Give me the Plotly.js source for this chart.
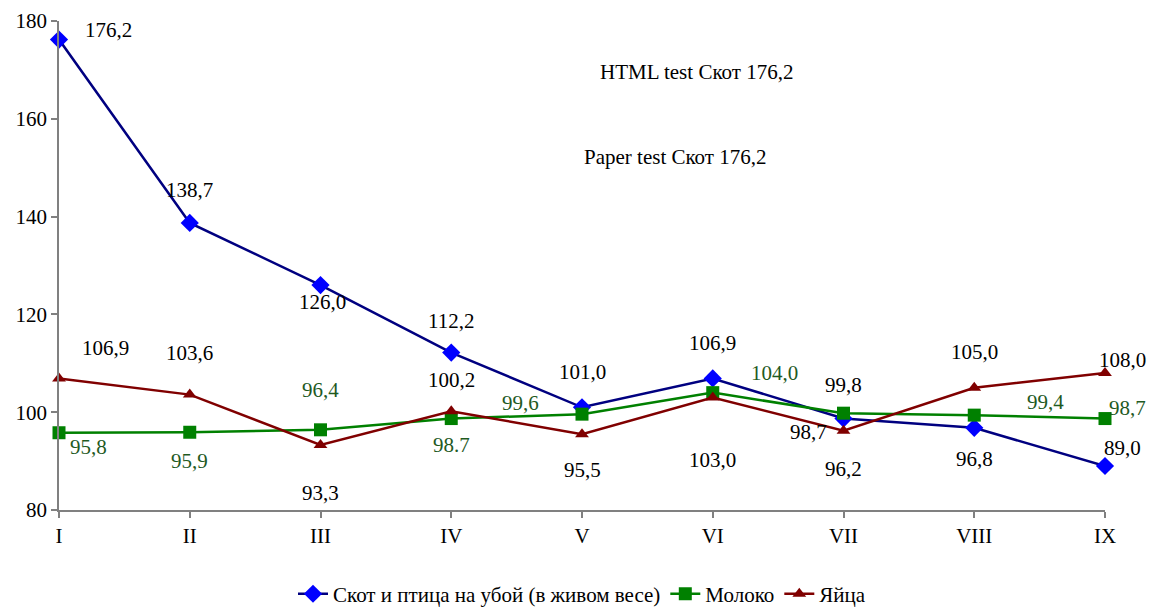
<!DOCTYPE html>
<html>
<head>
<meta charset="utf-8">
<script src="https://cdn.plot.ly/plotly-3.0.1.min.js"></script>
</head>
<body style="margin:0">
<div id="chart" style="width:1168px;height:608px"></div>
<div style="position:absolute;top:60px;left:600px;font-family:'Liberation Serif';font-size:21px">HTML test Скот 176,2</div>
<script>
// ---- data ----
const months = ["I","II","III","IV","V","VI","VII","VIII","IX"];
const seriesNames = ["Скот и птица на убой (в живом весе)", "Молоко", "Яйца"];
const livestock = [176.2, 138.7, 126.0, 112.2, 101.0, 106.9, 98.7, 96.8, 89.0];
const milk = [95.8, 95.9, 96.4, 98.7, 99.6, 104.0, 99.8, 99.4, 98.7];
const eggs = [106.9, 103.6, 93.3, 100.2, 95.5, 103.0, 96.2, 105.0, 108.0];
const livestockLabels = ["176,2","138,7","126,0","112,2","101,0","106,9","98,7","96,8","89,0"];
const milkLabels = ["95,8","95,9","96,4","98.7","99,6","104,0","99,8","99,4","98,7"];
const eggsLabels = ["106,9","103,6","93,3","100,2","95,5","103,0","96,2","105,0","108,0"];
const yTicks = [80, 100, 120, 140, 160, 180];

// ---- label styling (pixel offsets from the point) ----
const livestockOff = [[49,10],[0,33],[2,-17],[0,32],[0,35],[0,35],[-35,-13],[0,-31],[17,18]];
const milkOff = [[29,-14],[0,-29],[0,40],[0,-26],[-62,11],[62,20],[0,28],[71,13],[22,11]];
const eggsOff = [[46,30],[0,42],[0,-48],[0,31],[0,-36],[0,-62],[0,-38],[0,36],[17,13]];
const livestockLblColor = "#000000";
const milkLblColor = ["#1f5a1f","#1f5a1f","#1f5a1f","#1f5a1f","#1f5a1f","#1f5a1f","#000000","#1f5a1f","#1f5a1f"];
const eggsLblColor = "#000000";

const fontFamily = "Liberation Serif";
const fontSize = 21;

const traces = [
  {x: months, y: livestock, name: seriesNames[0], type: "scatter", mode: "lines+markers",
   line: {color: "#000080", width: 2.5}, marker: {symbol: "diamond", size: 14, color: "#0000FF"}, cliponaxis: false},
  {x: months, y: milk, name: seriesNames[1], type: "scatter", mode: "lines+markers",
   line: {color: "#008000", width: 2.5}, marker: {symbol: "square", size: 13, color: "#008000"}, cliponaxis: false},
  {x: months, y: eggs, name: seriesNames[2], type: "scatter", mode: "lines+markers",
   line: {color: "#800000", width: 2.5}, marker: {symbol: "triangle-up", size: 12, color: "#800000"}, cliponaxis: false}
];

const annotations = [];
function addLabels(vals, labels, offs, colors) {
  vals.forEach((v, i) => {
    annotations.push({
      x: i, y: v, xref: "x", yref: "y", text: labels[i], showarrow: false,
      xshift: offs[i][0], yshift: offs[i][1],
      font: {family: fontFamily, size: fontSize, color: Array.isArray(colors) ? colors[i] : colors}
    });
  });
}
addLabels(livestock, livestockLabels, livestockOff, livestockLblColor);
addLabels(milk, milkLabels, milkOff, milkLblColor);
addLabels(eggs, eggsLabels, eggsOff, eggsLblColor);
annotations.push({x: 0.5, y: 0.75, xref: "paper", yref: "paper", xanchor: "left", showarrow: false,
  text: "Paper test Скот 176,2", font: {family: fontFamily, size: fontSize, color: "#000"}});

const layout = {
  width: 1168, height: 608,
  margin: {l: 59, r: 63, t: 21, b: 98, autoexpand: false},
  paper_bgcolor: "#fff", plot_bgcolor: "#fff",
  font: {family: fontFamily, size: fontSize, color: "#000"},
  showlegend: true,
  legend: {orientation: "h", x: 0.5, xanchor: "center", y: -0.172, yanchor: "middle",
           font: {family: fontFamily, size: fontSize, color: "#000"}, tracegroupgap: 0},
  xaxis: {type: "category", range: [0, 8], showgrid: false, zeroline: false,
          showline: true, linecolor: "#808080", linewidth: 1.5,
          ticks: "outside", ticklen: 6, tickcolor: "#808080", tickwidth: 1.5,
          tickfont: {family: fontFamily, size: fontSize, color: "#000"}, fixedrange: true},
  yaxis: {range: [80, 180], tickvals: yTicks, showgrid: false, zeroline: false,
          showline: true, linecolor: "#808080", linewidth: 1.5,
          ticks: "outside", ticklen: 6, tickcolor: "#808080", tickwidth: 1.5,
          tickfont: {family: fontFamily, size: fontSize, color: "#000"}, fixedrange: true},
  annotations: annotations
};

Plotly.newPlot("chart", traces, layout, {displayModeBar: false});
</script>
</body>
</html>
